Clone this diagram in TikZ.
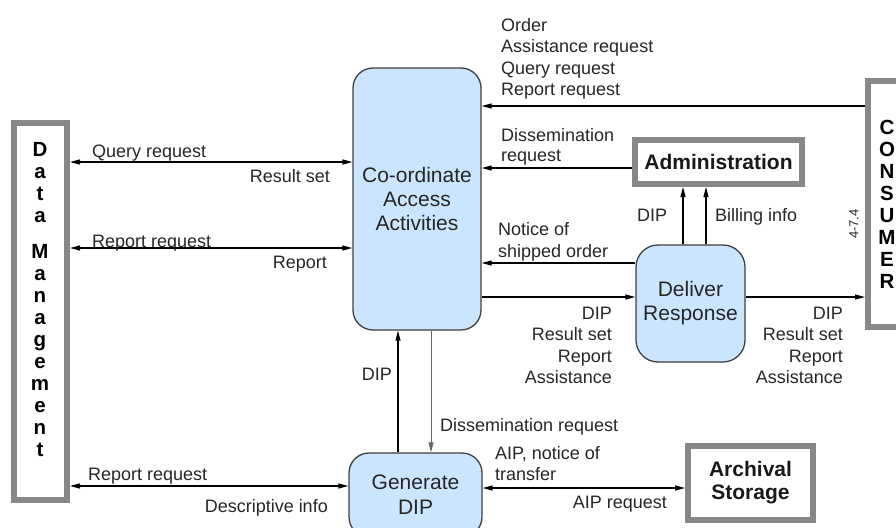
\documentclass[tikz,border=0pt]{standalone}
\usepackage{fontspec}
\setmainfont{Liberation Sans}
\usepackage{xcolor}
\usetikzlibrary{arrows.meta, positioning}

\definecolor{procfill}{HTML}{CCE5FF}
\definecolor{procline}{HTML}{404040}
\definecolor{entline}{HTML}{888888}

\begin{document}
\begin{tikzpicture}
	[
		x=1pt, y=-1pt,
		>={Triangle[length=10pt,width=5pt]},
		process/.style={draw=procline, line width=1.3pt, fill=procfill, rounded corners=20pt, align=center, inner sep=0pt, text=black!85, font=\fontsize{21}{24}\selectfont},
		entity/.style={draw=entline, line width=6pt, fill=white, outer sep=3pt, align=center, inner sep=0pt, text=black!90, font=\fontsize{21}{23}\selectfont\bfseries},
		letters/.style={align=center, inner sep=0pt, text=black, font=\fontsize{20.5}{22}\selectfont\bfseries},
		lbl/.style={inner sep=0pt, text=black!85, font=\fontsize{18}{21.5}\selectfont},
		flow/.style={->, line width=1.2pt}
	]
	\useasboundingbox (0,0) rectangle (896,527);
	\clip (0,0) rectangle (896,527);

	% processes and entities
	\node[process, minimum width=128pt, minimum height=262pt] (coa) at (417,199) {Co-ordinate\\Access\\Activities};
	\node[process, minimum width=109pt, minimum height=117pt, rounded corners=22pt] (dlv) at (690.5,303.5) {Deliver\\Response};
	\node[process, minimum width=133pt, minimum height=84pt, font=\fontsize{21}{25}\selectfont] (gen) at (415.5,495) {Generate\\DIP};
	\node[entity, minimum width=167pt, minimum height=44pt] (adm) at (718.5,162) {Administration};
	\node[entity, minimum width=125pt, minimum height=74pt] (arc) at (750.5,483) {Archival\\Storage};
	\node[entity, minimum width=53pt, minimum height=377pt] (dm) at (40.5,311.5) {};
	\node[letters] (dmtext) at (40,299.5) {D\\a\\t\\a\\[14pt]M\\a\\n\\a\\g\\e\\m\\e\\n\\t};
	\node[entity, letters, minimum width=38pt, minimum height=246pt] (cons) at (887,204) {C\\O\\N\\S\\U\\M\\E\\R};
	\node[lbl, rotate=90, font=\fontsize{13}{15}\selectfont] (fig) at (854,224) {4-7.4};

	% flow levels
	\coordinate (yorder) at (0,106);
	\coordinate (ydis) at (0,168);
	\coordinate (yqry) at (0,162);
	\coordinate (yrpt) at (0,248);
	\coordinate (ynot) at (0,263);
	\coordinate (ydip) at (0,297);
	\coordinate (yrpt2) at (0,486);
	\coordinate (yaip) at (0,488);
	\coordinate (xup) at (398,0);
	\coordinate (xdown) at (431,0);
	\coordinate (xadip) at (683,0);
	\coordinate (xbill) at (706,0);

	% connectors
	\draw[flow] (cons.west |- yorder) -- (coa.east |- yorder);
	\draw[flow] (adm.west |- ydis) -- (coa.east |- ydis);
	\draw[flow] (dlv.west |- ynot) -- (coa.east |- ynot);
	\draw[flow] (coa.east |- ydip) -- (dlv.west |- ydip);
	\draw[flow] (dlv.east |- ydip) -- (cons.west |- ydip);
	\draw[flow] (dlv.north -| xadip) -- (adm.south -| xadip);
	\draw[flow] (dlv.north -| xbill) -- (adm.south -| xbill);
	\draw[flow, <->] (dm.east |- yqry) -- (coa.west |- yqry);
	\draw[flow, <->] (dm.east |- yrpt) -- (coa.west |- yrpt);
	\draw[flow] (gen.north -| xup) -- (coa.south -| xup);
	\draw[flow, draw=black!60, line width=0.8pt] (coa.south -| xdown) -- (gen.north -| xdown);
	\draw[flow, <->] (dm.east |- yrpt2) -- (gen.west |- yrpt2);
	\draw[flow, <->] (gen.east |- yaip) -- (arc.west |- yaip);

	% labels
	\node[lbl, anchor=north west, align=left] (ordlbl) at (501,18) {Order\\Assistance request\\Query request\\Report request};
	\node[lbl, anchor=north west, align=left, font=\fontsize{18}{20}\selectfont] (dislbl) at (501,128.5) {Dissemination\\request};
	\node[lbl, anchor=north west, align=left] (notlbl) at (498,222.5) {Notice of\\shipped order};
	\node[lbl, anchor=north east, align=right] (dlvin) at (612,306.5) {DIP\\Result set\\Report\\Assistance};
	\node[lbl, anchor=north east, align=right] (dlvout) at (843,306.5) {DIP\\Result set\\Report\\Assistance};
	\node[lbl, anchor=base west] (admdip) at (637,221.5) {DIP};
	\node[lbl, anchor=base west] (bill) at (715,221.5) {Billing info};
	\node[lbl, anchor=base west] (qrylbl) at (92,157) {Query request};
	\node[lbl, anchor=base east] (reslbl) at (330,182) {Result set};
	\node[lbl, anchor=base west] (rptlbl) at (92,247) {Report request};
	\node[lbl, anchor=base east] (rpt) at (327,268) {Report};
	\node[lbl, anchor=base west] (rpt2lbl) at (88,480) {Report request};
	\node[lbl, anchor=base east] (desclbl) at (328,512) {Descriptive info};
	\node[lbl, anchor=base east] (diplbl) at (392,380) {DIP};
	\node[lbl, anchor=base west] (dis2lbl) at (440,431) {Dissemination request};
	\node[lbl, anchor=north west, align=left] (aiplbl) at (495,446) {AIP, notice of\\transfer};
	\node[lbl, anchor=base east] (aipreq) at (667,508) {AIP request};
\end{tikzpicture}
\end{document}
